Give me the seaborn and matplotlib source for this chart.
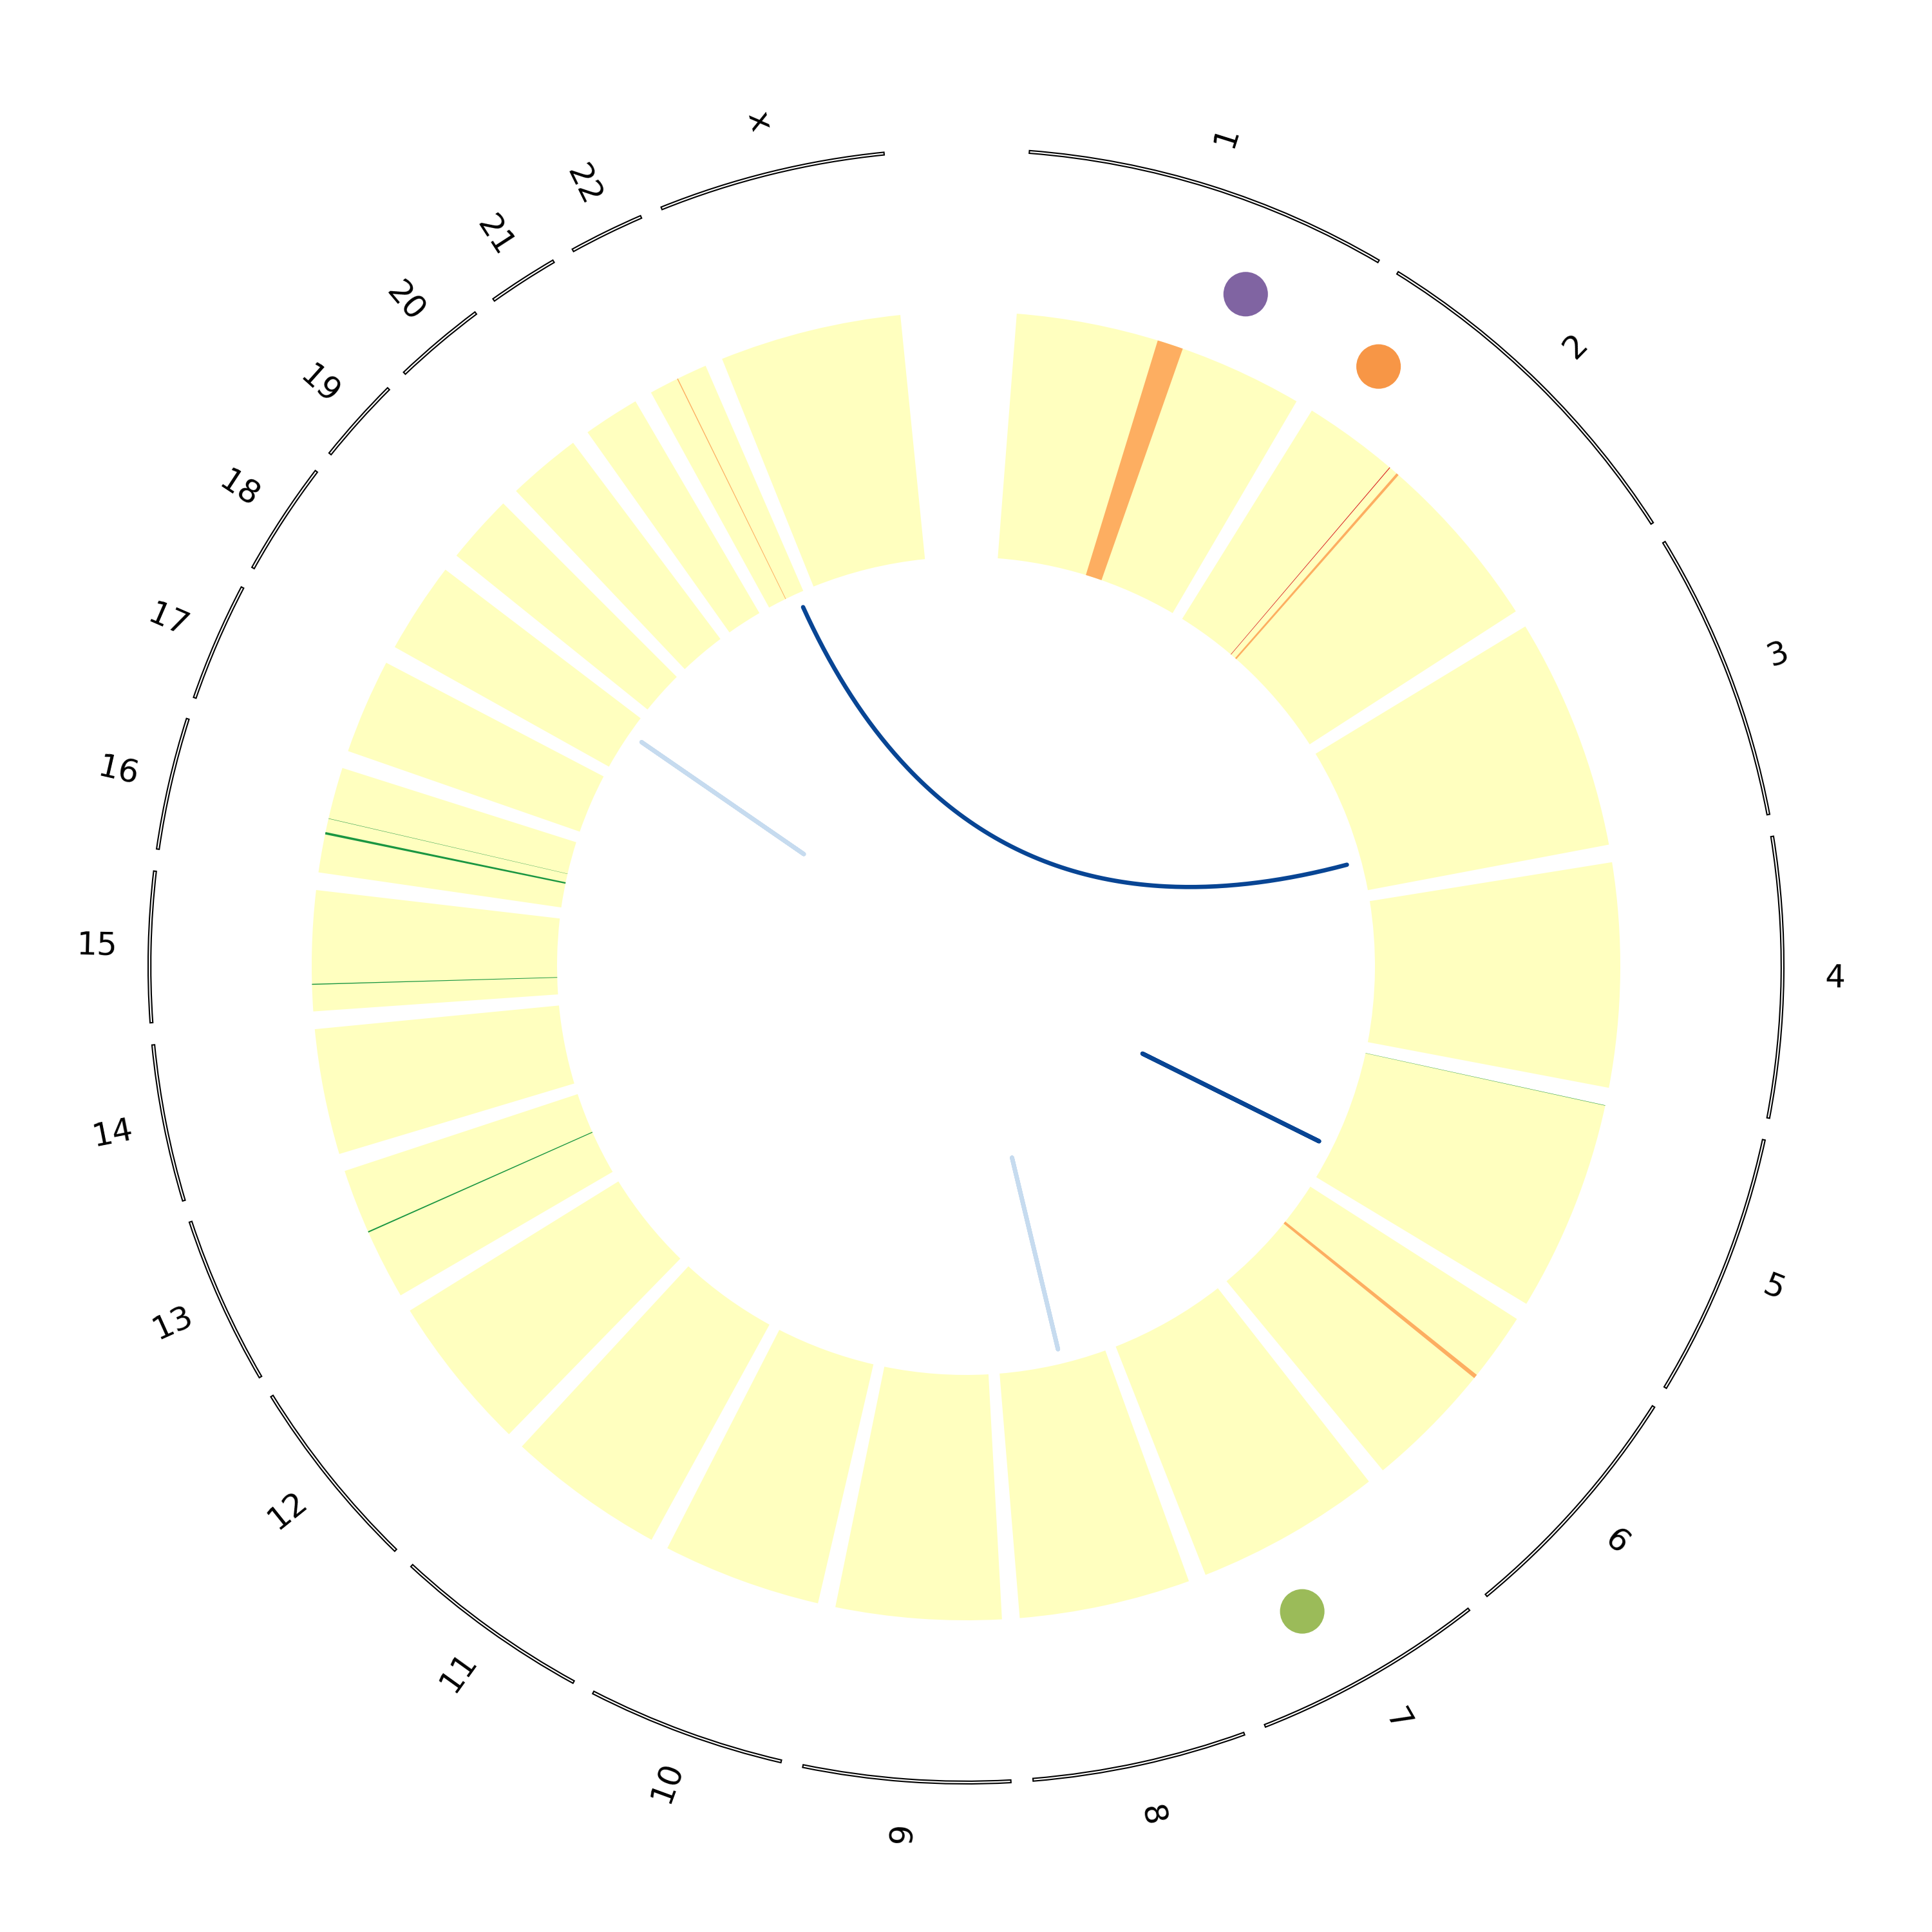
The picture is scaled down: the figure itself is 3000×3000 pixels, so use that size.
import numpy as np
import matplotlib.pyplot as plt
import seaborn as sns
import pandas as pd

# chromosome layout (sizes in Mb, hg19)
chrom_names = ["1", "2", "3", "4", "5", "6", "7", "8", "9", "10", "11", "12",
               "13", "14", "15", "16", "17", "18", "19", "20", "21", "22", "x"]
chrom_sizes = [249.25, 243.20, 198.02, 191.15, 180.92, 171.12, 159.14, 146.36,
               141.21, 135.53, 135.01, 133.85, 115.17, 107.35, 102.53, 90.35,
               81.20, 78.08, 59.13, 63.03, 48.13, 51.30, 155.27]

# heatmap bins that are not neutral (chrom, start Mb, end Mb, state)
heat_chrom = ["1", "2", "2", "5", "6", "13", "15", "16", "16", "22"]
heat_start = [121.2, 81.2, 89.0, 0.0, 58.0, 59.5, 22.5, 32.5, 46.0, 24.8]
heat_end = [143.4, 81.8, 91.2, 0.3, 61.5, 60.6, 23.3, 34.5, 46.3, 25.6]
heat_state = [1, 2, 1, -2, 1, -2, -2, -2, -2, 1]

# scatter track
dot_chrom = ["1", "2", "7"]
dot_pos = [174.7, 25.3, 101.0]
dot_color = ["#8064a2", "#f79646", "#9bbb59"]

# links (chrom1, pos1) -> (chrom2, pos2)
link_chrom1 = ["22", "5", "18", "8"]
link_pos1 = [42.0, 135.8, 52.3, 61.8]
link_chrom2 = ["3", "5", "18", "8"]
link_pos2 = [157.6, 135.8, 52.3, 61.8]
link_color = ["#084594", "#084594", "#c6dbef", "#c6dbef"]

state_colors = {2: "#d7191c", 1: "#fdae61", 0: "#ffffbf", -1: "#a6d96a", -2: "#1a9641"}

START = 4.45      # degrees, first chromosome start
GAP = 1.56        # degrees between chromosomes
DEG_PER_MB = 0.1039


def chrom_starts():
    starts = {}
    a = START
    for name, size in zip(chrom_names, chrom_sizes):
        starts[name] = a
        a += size * DEG_PER_MB + GAP
    return starts


STARTS = chrom_starts()


def to_theta(chrom, pos):
    return np.deg2rad(STARTS[chrom] + pos * DEG_PER_MB)


def bezier_link(t1, t2, r, n=200):
    p0 = np.array([r * np.sin(t1), r * np.cos(t1)])
    p2 = np.array([r * np.sin(t2), r * np.cos(t2)])
    t = np.linspace(0, 1, n)[:, None]
    pts = (1 - t) ** 2 * p0 + t ** 2 * p2
    theta = np.arctan2(pts[:, 0], pts[:, 1])
    rad = np.hypot(pts[:, 0], pts[:, 1])
    return np.unwrap(theta), rad


def main():
    sns.set_style("white")
    fig = plt.figure(figsize=(10, 10), dpi=300)
    ax = fig.add_axes([0, 0, 1, 1], projection="polar")
    ax.set_theta_zero_location("N")
    ax.set_theta_direction(-1)
    ax.set_ylim(0, 1500)
    ax.axis("off")

    # neutral heatmap background per chromosome
    for name, size in zip(chrom_names, chrom_sizes):
        ax.bar(to_theta(name, 0), 381, width=np.deg2rad(size * DEG_PER_MB),
               bottom=635, align="edge", color=state_colors[0], linewidth=0)

    # non-neutral bins
    for c, s, e, v in zip(heat_chrom, heat_start, heat_end, heat_state):
        ax.bar(to_theta(c, s), 381, width=np.deg2rad((e - s) * DEG_PER_MB),
               bottom=635, align="edge", color=state_colors[v], linewidth=0)

    # links
    for c1, p1, c2, p2, col in zip(link_chrom1, link_pos1, link_chrom2, link_pos2, link_color):
        th, rr = bezier_link(to_theta(c1, p1), to_theta(c2, p2), 612)
        ax.plot(th, rr, color=col, linewidth=1.6, solid_capstyle="round")

    # scatter track
    dots = pd.DataFrame({
        "theta": [to_theta(c, p) for c, p in zip(dot_chrom, dot_pos)],
        "r": [1130] * len(dot_chrom),
        "color": dot_color,
    })
    sns.scatterplot(data=dots, x="theta", y="r", hue="color", palette=dict(zip(dot_color, dot_color)),
                    s=275, linewidth=0, legend=False, ax=ax)

    # ideogram ring + labels
    for name, size in zip(chrom_names, chrom_sizes):
        ax.bar(to_theta(name, 0), 4.2, width=np.deg2rad(size * DEG_PER_MB),
               bottom=1265.8, align="edge", facecolor="white", edgecolor="black",
               linewidth=0.5)
        mid = STARTS[name] + size * DEG_PER_MB / 2
        rot = ((90 - mid) + 90) % 180 - 90
        ax.text(np.deg2rad(mid), 1350, name, rotation=rot, rotation_mode="anchor",
                ha="center", va="center", fontsize=12, color="black",
                family="DejaVu Sans")

    ax.set_ylim(0, 1500)
    fig.savefig("out.png", dpi=300, facecolor="white")


if __name__ == "__main__":
    main()
